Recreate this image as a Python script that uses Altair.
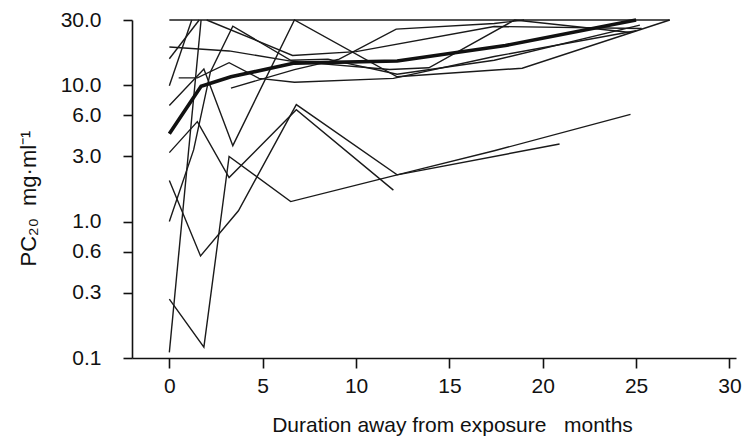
import altair as alt
import pandas as pd

# ---- axis ticks ----
month_ticks = [0, 5, 10, 15, 20, 25, 30]
pc20_ticks = [0.1, 0.3, 0.6, 1.0, 3.0, 6.0, 10.0, 30.0]

# ---- individual subjects (months, PC20 mg/ml) ----
s01_x = [0, 26.8]
s01_y = [30, 30]
s02_x = [0, 1.7]
s02_y = [0.11, 30]
s03_x = [0, 1.85, 3.2, 6.5, 12.2, 20.9]
s03_y = [0.27, 0.12, 3.0, 1.4, 2.2, 3.7]
s04_x = [0, 1.67, 3.7, 6.8, 12.2, 17.4, 24.7]
s04_y = [2.0, 0.56, 1.2, 7.2, 2.2, 3.3, 6.1]
s05_x = [0, 1.5, 3.2, 6.8, 12.0]
s05_y = [3.2, 5.4, 2.1, 6.6, 1.7]
s06_x = [0, 1.2]
s06_y = [9.9, 30]
s07_x = [0, 1.6]
s07_y = [15.6, 30]
s08_x = [0, 3.2, 6.5, 11.8, 13.9, 18.5, 24.7]
s08_y = [19, 17.8, 15, 13, 13.4, 30, 24.3]
s09_x = [0, 1.85, 3.4, 6.7, 12.2, 18.9, 26.8]
s09_y = [7.1, 13.1, 3.6, 30, 11.5, 13.3, 30]
s10_x = [0, 1.3, 2.2, 3.4, 6.5, 8.5, 12.2, 17.4, 25.2]
s10_y = [1.0, 3.35, 12.5, 27, 15.2, 15.5, 12, 15.2, 27.5]
s11_x = [0.5, 1.5, 3.2, 4.8, 6.7, 12.0, 17.4, 25.0]
s11_y = [11.3, 11.3, 14.6, 11.2, 10.5, 11.2, 16.2, 25]
s12_x = [3.3, 6.7, 9.1, 12.15, 17.4, 19.0]
s12_y = [9.5, 13, 15.5, 25.7, 28.3, 30]
s13_x = [2.0, 6.6, 10.0, 17.4, 25.3]
s13_y = [30, 16.5, 17.6, 26.9, 26]

# ---- group mean (bold line) ----
mean_x = [0, 1.7, 3.3, 6.7, 12.2, 18.0, 25.0]
mean_y = [4.4, 9.8, 11.5, 14.5, 15.0, 19.5, 30.0]

subjects = [
    (s01_x, s01_y), (s02_x, s02_y), (s03_x, s03_y), (s04_x, s04_y),
    (s05_x, s05_y), (s06_x, s06_y), (s07_x, s07_y), (s08_x, s08_y),
    (s09_x, s09_y), (s10_x, s10_y), (s11_x, s11_y), (s12_x, s12_y),
    (s13_x, s13_y),
]
rows = []
for i, (xs, ys) in enumerate(subjects):
    for k, (xv, yv) in enumerate(zip(xs, ys)):
        rows.append({"subject": f"S{i+1}", "months": xv, "pc20": yv, "k": k})
df = pd.DataFrame(rows)
mean_df = pd.DataFrame({"months": mean_x, "pc20": mean_y, "k": list(range(len(mean_x)))})

FONT = "Liberation Sans, Arial, Helvetica, sans-serif"
NB = "\u00a0"

xscale = alt.Scale(domain=[-2, 30.35], nice=False, zero=False)
yscale = alt.Scale(type="log", domain=[0.1, 30], nice=False)

x_axis = alt.Axis(
    values=month_ticks, title=f"Duration away from exposure{NB*3}months",
    tickSize=10, labelPadding=7, titleX=320, titleY=67, titleBaseline="middle",
    labelFlush=False, labelFontSize=21, titleFontSize=21,
)
y_axis = alt.Axis(
    values=pc20_ticks, format=".1f", title=f"PC₂₀{NB*2}mg·ml⁻¹",
    tickSize=9, labelPadding=22, titleX=-104, titleY=178,
    titleBaseline="middle", labelFlush=False, labelFontSize=21, titleFontSize=22,
)

thin = alt.Chart(df).mark_line(color="#1a1a1a", strokeWidth=1.4).encode(
    x=alt.X("months:Q", scale=xscale, axis=x_axis),
    y=alt.Y("pc20:Q", scale=yscale, axis=y_axis),
    detail="subject:N",
    order="k:Q",
)
bold = alt.Chart(mean_df).mark_line(color="#111111", strokeWidth=3.6).encode(
    x=alt.X("months:Q", scale=xscale),
    y=alt.Y("pc20:Q", scale=yscale),
    order="k:Q",
)

chart = (
    (thin + bold)
    .properties(
        width=604, height=338,
        autosize=alt.AutoSizeParams(type="none"),
        padding={"left": 124, "top": 12, "right": 6, "bottom": 82},
    )
    .configure_view(stroke=None)
    .configure_axis(
        grid=False, domainColor="#111111", tickColor="#111111",
        labelColor="#111111", titleColor="#111111",
        labelFont=FONT, titleFont=FONT,
        titleFontWeight="normal", domainWidth=1.6, tickWidth=1.6,
    )
)

chart.save("out.html", embed_options={"renderer": "svg", "actions": False})
